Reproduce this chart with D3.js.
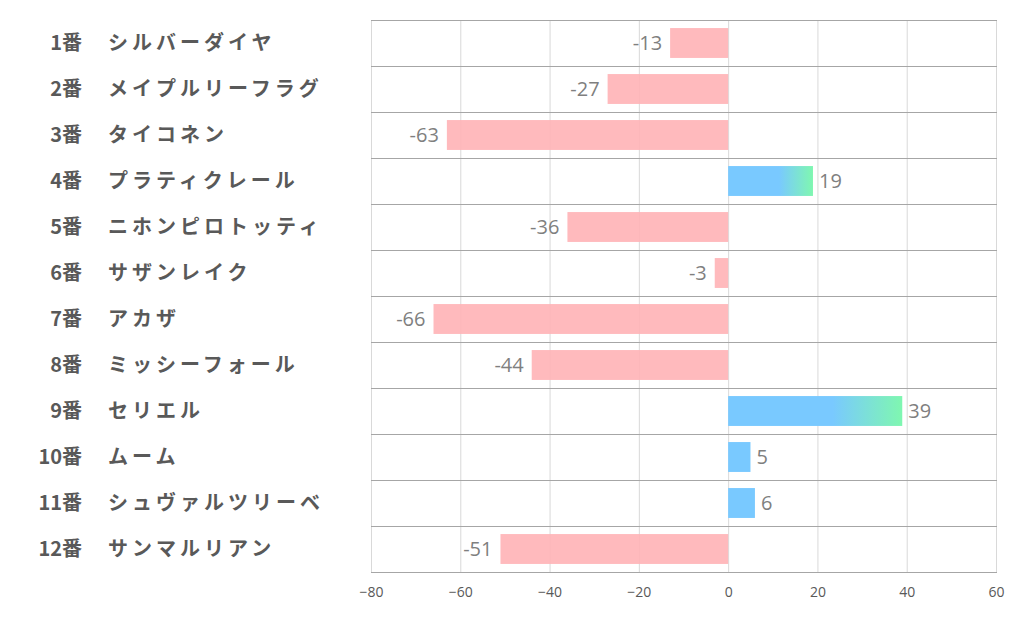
<!DOCTYPE html>
<html><head><meta charset="utf-8">
<script src="https://cdn.jsdelivr.net/npm/d3@7"></script>
<style>body{margin:0;background:#fff;} svg{display:block;}</style>
</head><body>
<svg id="c" width="1022" height="626"></svg>
<script>
const numbers = ["1番","2番","3番","4番","5番","6番","7番","8番","9番","10番","11番","12番"];
const names = ["シルバーダイヤ","メイプルリーフラグ","タイコネン","プラティクレール","ニホンピロトッティ","サザンレイク","アカザ","ミッシーフォール","セリエル","ムーム","シュヴァルツリーベ","サンマルリアン"];
const values = [-13,-27,-63,19,-36,-3,-66,-44,39,5,6,-51];
const xTicks = [-80,-60,-40,-20,0,20,40,60];

const svg = d3.select("#c");
const L = 371, R = 996, T = 20, B = 572;
const x = d3.scaleLinear().domain([-80,60]).range([L,R]);
const y = d3.scaleBand().domain(d3.range(values.length)).range([T,B]).paddingInner(0.35).paddingOuter(0.175);
const rowH = (B-T)/values.length;
const font = "'Noto Sans CJK JP','Noto Sans',sans-serif";
const font2 = "'Open Sans','Noto Sans',sans-serif";

const defs = svg.append("defs");
const grad = defs.append("linearGradient").attr("id","g").attr("x1","0").attr("x2","1").attr("y1","0").attr("y2","0");
grad.append("stop").attr("offset","0.6").attr("stop-color","#79C9FF");
grad.append("stop").attr("offset","1").attr("stop-color","#7FF7B0");

// vertical gridlines
svg.append("g").selectAll("line").data(xTicks).join("line")
  .attr("x1",d=>x(d)+0.5).attr("x2",d=>x(d)+0.5).attr("y1",T).attr("y2",B)
  .attr("stroke","#d9d9d9").attr("stroke-width",1);

// horizontal row lines
svg.append("g").selectAll("line").data(d3.range(values.length+1)).join("line")
  .attr("x1",L).attr("x2",R+1).attr("y1",d=>T+d*rowH+0.5).attr("y2",d=>T+d*rowH+0.5)
  .attr("stroke","#a6a6a6").attr("stroke-width",1);

// bars
svg.append("g").selectAll("rect").data(values).join("rect")
  .attr("x",d=>x(Math.min(0,d))).attr("width",d=>Math.abs(x(d)-x(0)))
  .attr("y",(d,i)=>y(i)).attr("height",y.bandwidth())
  .attr("fill",d=> d<0 ? "#FFB3B6" : (d>=10 ? "url(#g)" : "#79C9FF"))
  .attr("fill-opacity",d=> d<0 ? 0.9 : 1);

// value labels
svg.append("g").selectAll("text").data(values).join("text")
  .attr("x",d=> d<0 ? x(d)-8 : x(d)+6)
  .attr("y",(d,i)=>y(i)+y.bandwidth()/2)
  .attr("dy","0.36em")
  .attr("text-anchor",d=> d<0 ? "end" : "start")
  .attr("font-family",font2).attr("font-size",20).attr("fill","#7f7f7f")
  .text(d=>d);

// category labels
const lab = svg.append("g");
lab.selectAll("text.n").data(numbers).join("text").attr("class","n")
  .attr("x",82).attr("y",(d,i)=>y(i)+y.bandwidth()/2).attr("dy","0.35em")
  .attr("text-anchor","end").attr("font-family",font).attr("font-size",20)
  .attr("font-weight","bold").attr("fill","#595959").text(d=>d);
lab.selectAll("text.m").data(names).join("text").attr("class","m")
  .attr("x",108).attr("y",(d,i)=>y(i)+y.bandwidth()/2).attr("dy","0.35em")
  .attr("text-anchor","start").attr("font-family",font).attr("font-size",20)
  .attr("letter-spacing","4px")
  .attr("font-weight","bold").attr("fill","#595959").text(d=>d);

// x axis
const ax = svg.append("g").attr("transform",`translate(0,${B})`)
  .call(d3.axisBottom(x).tickValues(xTicks).tickSize(0).tickPadding(15));
ax.select(".domain").remove();
ax.selectAll("text").attr("font-family",font2).attr("font-size",14).attr("fill","#595959");
</script>
</body></html>
